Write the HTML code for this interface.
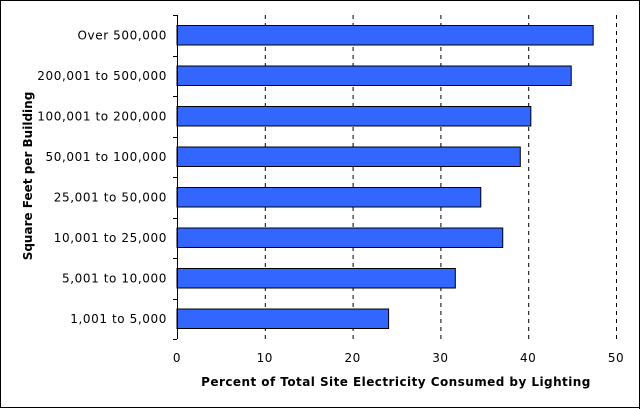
<!DOCTYPE html>
<html><head><meta charset="utf-8"><style>
body{margin:0;background:#fff}
svg{display:block;font-family:Verdana,"DejaVu Sans",sans-serif}
</style></head><body>
<svg id="c" width="641" height="409">
<rect x="0.5" y="0.5" width="639" height="407" fill="#fff" stroke="#000" stroke-width="1"/>
<line x1="639.5" y1="0" x2="639.5" y2="409" stroke="#000"/>
<g id="grid"></g><g id="bars"></g><g id="axes"></g>
<text x="396" y="386" font-size="12" font-weight="bold" text-anchor="middle" letter-spacing="0.45">Percent of Total Site Electricity Consumed by Lighting</text>
<text transform="translate(32,176) rotate(-90)" font-size="12" font-weight="bold" text-anchor="middle">Square Feet per Building</text>
</svg>
<script>
const categories=["Over 500,000","200,001 to 500,000","100,001 to 200,000","50,001 to 100,000","25,001 to 50,000","10,001 to 25,000","5,001 to 10,000","1,001 to 5,000"];
const values=[47.4,44.9,40.3,39.1,34.6,37.1,31.7,24.1];
const xTicks=[0,10,20,30,40,50];
const X0=177,XS=8.78,Y0=15,BAND=40.5,BH=19.5;
const xs=v=>X0+v*XS;
const ns="http://www.w3.org/2000/svg";
function mk(t,a,p){const e=document.createElementNS(ns,t);for(const k in a)e.setAttribute(k,a[k]);p.appendChild(e);return e;}
const g=document.getElementById('grid'),b=document.getElementById('bars'),ax=document.getElementById('axes');
xTicks.forEach(t=>{
 if(t>0){const l=mk('line',{x1:xs(t)+0.5,x2:xs(t)+0.5,y1:Y0,y2:Y0+BAND*8,stroke:'#000','stroke-dasharray':'4,4'},g);
 
 }
 const tx=mk('text',{x:xs(t),y:362,'font-size':12,'text-anchor':'middle','letter-spacing':0.5},ax);tx.textContent=t;
 
 
});
categories.forEach((c,i)=>{
 const cy=Y0+BAND*(i+0.5);
 const r=mk('rect',{x:X0,y:cy-BH/2,width:values[i]*XS,height:BH,fill:'#3366ff',stroke:'#000','stroke-width':1},b);
 
 
 const tx=mk('text',{x:167,y:cy+4,'font-size':12,'text-anchor':'end','letter-spacing':0.6},ax);tx.textContent=c;
 
 
});
const al=mk('line',{x1:X0+0.5,x2:X0+0.5,y1:Y0,y2:Y0+BAND*8,stroke:'#000'},ax);


for(let i=0;i<=8;i++){const y=Math.round(Y0+BAND*i)+0.5;
 const t=mk('line',{x1:X0-4,x2:X0,y1:y,y2:y,stroke:'#000'},ax);
 
 }
</script>
</body></html>
